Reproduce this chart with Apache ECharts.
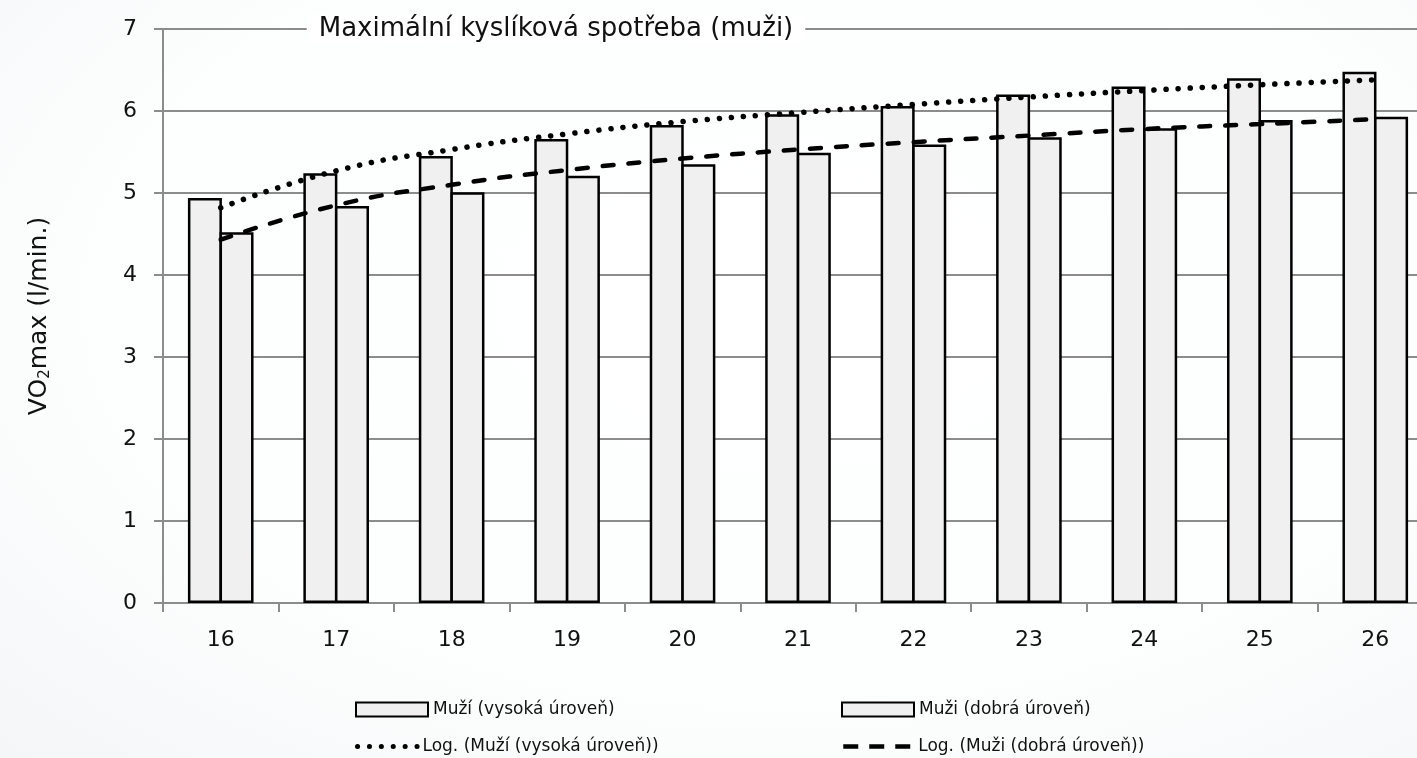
<!DOCTYPE html>
<html>
<head>
<meta charset="utf-8">
<script src="https://cdn.jsdelivr.net/npm/echarts@6/dist/echarts.min.js"></script>
<style>
  html, body { margin: 0; padding: 0; }
  body {
    width: 1417px; height: 758px;
    background: radial-gradient(ellipse at 55% 40%, #ffffff 0%, #fdfefe 60%, #f5f6f7 100%);
    overflow: hidden;
  }
  /* the drawing surface is a bit wider than the page: the plot runs past the right edge */
  #chart { width: 1440px; height: 758px; }
</style>
</head>
<body>
<div id="chart"></div>
<script>
// Age categories (years)
const ages = ['16', '17', '18', '19', '20', '21', '22', '23', '24', '25', '26'];

// VO2max (l/min.) — high fitness level
const highLevel = [4.94, 5.24, 5.45, 5.66, 5.83, 5.96, 6.06, 6.20, 6.30, 6.40, 6.48];
// VO2max (l/min.) — good fitness level
const goodLevel = [4.52, 4.84, 5.01, 5.21, 5.35, 5.49, 5.59, 5.68, 5.79, 5.89, 5.93];

// Logarithmic trend lines, values per age
const highTrend = [4.82, 5.27, 5.53, 5.72, 5.87, 5.98, 6.08, 6.17, 6.25, 6.32, 6.38];
const goodTrend = [4.43, 4.85, 5.10, 5.28, 5.42, 5.53, 5.62, 5.70, 5.78, 5.84, 5.90];

const yTicks = [0, 1, 2, 3, 4, 5, 6, 7];

const nameHigh = 'Muží (vysoká úroveň)';
const nameGood = 'Muži (dobrá úroveň)';
const nameHighTrend = 'Log. (Muží (vysoká úroveň))';
const nameGoodTrend = 'Log. (Muži (dobrá úroveň))';

const FONT = '"DejaVu Sans", sans-serif';
const GRID_GREY = '#8c8c8c';

const chart = echarts.init(document.getElementById('chart'), null, { renderer: 'canvas' });

const barStyle = { color: '#f0f0f0', borderColor: '#000', borderWidth: 2.5 };

const legendText = { fontFamily: FONT, fontSize: 17, color: '#111' };
// line legends: hide the marker dot, keep the dashed / dotted stroke
const lineLegendItem = { color: 'transparent', borderWidth: 0, opacity: 0 };

chart.setOption({
  backgroundColor: 'transparent',
  animation: false,
  title: {
    text: 'Maximální kyslíková spotřeba (muži)',
    left: 544, top: 15,
    textAlign: 'center',
    backgroundColor: '#ffffff',
    padding: [1, 12, 1, 12],
    textStyle: { fontFamily: FONT, fontSize: 26, fontWeight: 'normal', color: '#111' }
  },
  grid: { left: 163, width: 1270, top: 29, bottom: 155, containLabel: false, outerBoundsMode: 'none' },
  legend: [
    {
      data: [{ name: nameHigh, icon: 'rect' }], left: 350, top: 696, itemWidth: 72, itemHeight: 14,
      itemGap: 0, textStyle: legendText
    },
    {
      data: [{ name: nameGood, icon: 'rect' }], left: 836, top: 696, itemWidth: 72, itemHeight: 14,
      textStyle: legendText
    },
    {
      data: [nameHighTrend], left: 350, top: 733, itemWidth: 60, itemHeight: 14,
      itemStyle: lineLegendItem, textStyle: legendText,
      lineStyle: { color: '#000', width: 5, type: [0.1, 11.8], cap: 'round' }
    },
    {
      data: [nameGoodTrend], left: 836, top: 733, itemWidth: 70, itemHeight: 14,
      itemStyle: lineLegendItem, textStyle: legendText,
      lineStyle: { color: '#000', width: 4.5, type: [15, 11], cap: 'butt' }
    }
  ],
  xAxis: {
    type: 'category',
    data: ages,
    boundaryGap: true,
    axisLine: { lineStyle: { color: GRID_GREY, width: 2 } },
    axisTick: { show: true, length: 9, lineStyle: { color: GRID_GREY, width: 2 }, alignWithLabel: false },
    axisLabel: { fontFamily: FONT, fontSize: 22, color: '#111', margin: 26 },
    splitLine: { show: false }
  },
  yAxis: {
    type: 'value',
    min: yTicks[0], max: yTicks[yTicks.length - 1], interval: 1,
    name: '{a|VO}{s|2}{a|max (l/min.)}',
    nameLocation: 'middle',
    nameGap: 110,
    nameRotate: 90,
    nameTextStyle: {
      rich: {
        a: { fontFamily: FONT, fontSize: 25, color: '#111' },
        s: { fontFamily: FONT, fontSize: 15, color: '#111', verticalAlign: 'bottom', padding: [13, 0, 0, 0] }
      }
    },
    axisLine: { show: true, lineStyle: { color: GRID_GREY, width: 2 } },
    axisTick: { show: true, length: 9, lineStyle: { color: GRID_GREY, width: 2 } },
    axisLabel: { fontFamily: FONT, fontSize: 22, color: '#111', margin: 26 },
    splitLine: { show: true, lineStyle: { color: GRID_GREY, width: 2 } }
  },
  series: [
    {
      name: nameHigh, type: 'bar', data: highLevel,
      barWidth: 34, barGap: '-7%',
      itemStyle: barStyle, z: 2
    },
    {
      name: nameGood, type: 'bar', data: goodLevel,
      barWidth: 34, barGap: '-7%',
      itemStyle: barStyle, z: 2
    },
    {
      name: nameHighTrend, type: 'line', data: highTrend,
      smooth: true, symbol: 'none', z: 3,
      itemStyle: { color: '#000' },
      lineStyle: { color: '#000', width: 5.5, type: [0.1, 12], cap: 'round' }
    },
    {
      name: nameGoodTrend, type: 'line', data: goodTrend,
      smooth: true, symbol: 'none', z: 3,
      itemStyle: { color: '#000' },
      lineStyle: { color: '#000', width: 4.5, type: [11, 15], cap: 'round' }
    }
  ]
});
</script>
</body>
</html>
